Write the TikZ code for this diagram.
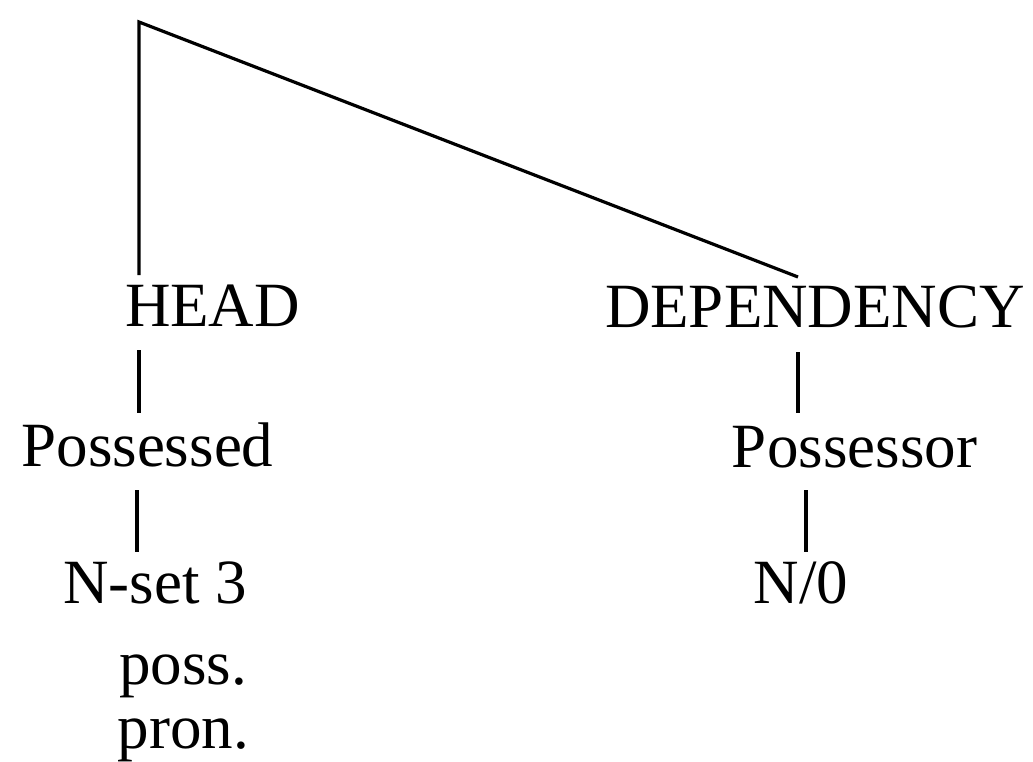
\documentclass[tikz,border=0pt]{standalone}
\usepackage{fontspec}
\setmainfont{Liberation Serif}
\begin{document}
\begin{tikzpicture}[x=1pt,y=-1pt,
  lbl/.style={inner sep=0pt,anchor=base,font=\fontsize{63}{70}\selectfont},
  edge/.style={line width=3.2pt,line cap=butt,line join=miter}]
\useasboundingbox (0,0) rectangle (1033,762);
\node[lbl] (head) at (212.5,326) {HEAD};
\node[lbl] (dep) at (815,327) {DEPENDENCY};
\node[lbl] (possd) at (147.5,466) {Possessed};
\node[lbl] (possr) at (854.5,467) {Possessor};
\node[lbl] (nset) at (155,603) {N-set 3};
\node[lbl] (poss) at (183,684) {poss.};
\node[lbl] (pron) at (183.5,748) {pron.};
\node[lbl] (n0) at (801,603) {N/0};
\coordinate (top) at (139,22);
\coordinate (headtop) at (139,275);
\coordinate (deptop) at (798,277);
\coordinate (h1) at (139,350);
\coordinate (h2) at (139,413);
\coordinate (h3) at (137,490);
\coordinate (h4) at (137,552);
\coordinate (d1) at (798,352);
\coordinate (d2) at (798,413);
\coordinate (d3) at (806,490);
\coordinate (d4) at (806,552);
\draw[edge] (headtop) -- (top) -- (deptop);
\draw[edge] (h1) -- (h2);
\draw[edge] (h3) -- (h4);
\draw[edge] (d1) -- (d2);
\draw[edge] (d3) -- (d4);
\end{tikzpicture}
\end{document}
